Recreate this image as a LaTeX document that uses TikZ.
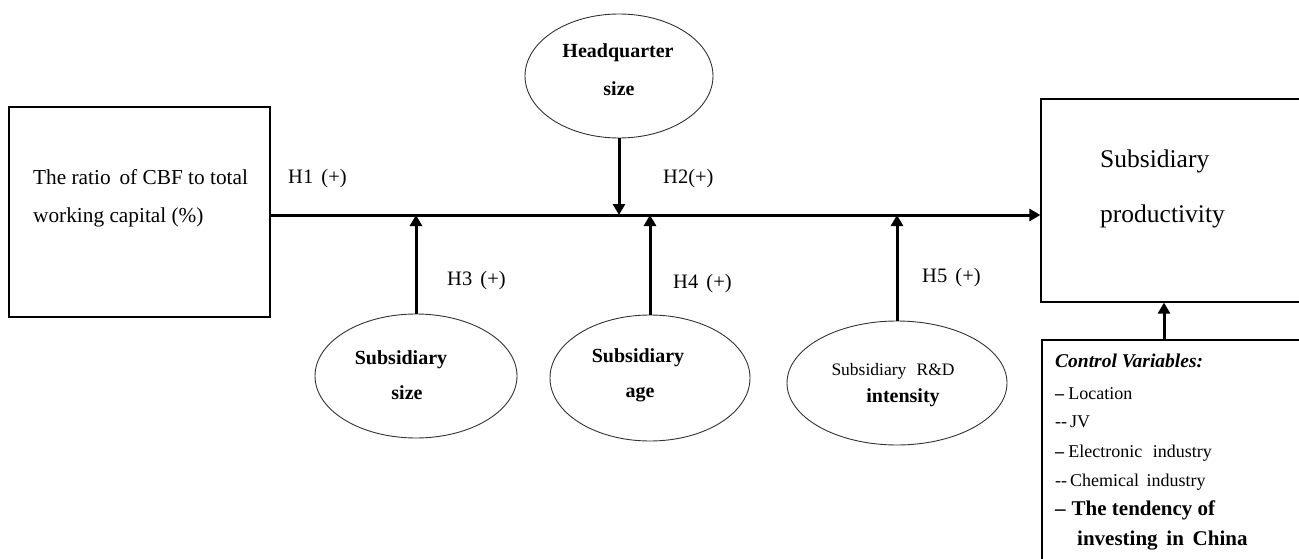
\documentclass[tikz,border=0pt]{standalone}
\usepackage{fontspec}
\setmainfont{Liberation Serif}
\usetikzlibrary{shapes.geometric,arrows.meta}
\begin{document}
\begin{tikzpicture}[x=1pt,y=-1pt,
  box/.style={draw, line width=1.2pt, rectangle, inner sep=0pt},
  oval/.style={draw=black!80, line width=0.9pt, ellipse, inner sep=0pt},
  arr/.style={line width=3pt, -{Triangle[length=11pt,width=12pt]}},
  lbl/.style={inner sep=0pt, text height=0.7em, text depth=0.2em},
  fmain/.style={font=\fontsize{21.3}{25}\selectfont},
  fprod/.style={font=\fontsize{25.5}{30}\selectfont},
  fh/.style={font=\fontsize{20.5}{24}\selectfont},
  fov/.style={font=\fontsize{20}{24}\selectfont\bfseries},
  frd/.style={font=\fontsize{17.5}{21}\selectfont},
  fcv/.style={font=\fontsize{19.5}{23}\selectfont\bfseries\itshape},
  fct/.style={font=\fontsize{18}{22}\selectfont},
  fcb/.style={font=\fontsize{21}{25}\selectfont\bfseries}
]
\clip (0,0) rectangle (1299,559);
\coordinate (mainy) at (0,215);
\coordinate (ctlx) at (1164,0);

% boxes
\node[box, minimum width=261pt, minimum height=210pt] (lbox) at (139.5,212) {};
\node[box, minimum width=280pt, minimum height=203pt] (pbox) at (1181,200.5) {};
\node[box, minimum width=280pt, minimum height=260pt] (cbox) at (1182,470) {};

% ellipses
\node[oval, minimum width=188pt, minimum height=124pt] (hq) at (619,76) {};
\node[oval, minimum width=202pt, minimum height=124pt] (e1) at (416,376) {};
\node[oval, minimum width=200pt, minimum height=126pt] (e2) at (650,378) {};
\node[oval, minimum width=220pt, minimum height=124pt] (e3) at (897,383) {};

% connectors
\draw[arr] (lbox.east |- mainy) -- (pbox.west |- mainy);
\draw[arr] (hq.south) -- (hq.south |- mainy);
\draw[arr] (e1.north) -- (e1.north |- mainy);
\draw[arr] (e2.north) -- (e2.north |- mainy);
\draw[arr] (e3.north) -- (e3.north |- mainy);
\draw[arr] (cbox.north -| ctlx) -- (pbox.south -| ctlx);

% left box text
\node[lbl, fmain, anchor=west] (r1) at (33,182) {The ratio\, of CBF to total};
\node[lbl, fmain, anchor=west] (r2) at (33,220) {working capital (\%)};

% productivity text
\node[lbl, fprod, anchor=west] (p1) at (1100,165) {Subsidiary};
\node[lbl, fprod, anchor=west] (p2) at (1100,220) {productivity};

% ellipse texts
\node[lbl, fov] (hq1) at (618,55) {Headquarter};
\node[lbl, fov] (hq2) at (619,93) {size};
\node[lbl, fov] (e1a) at (401,362) {Subsidiary};
\node[lbl, fov] (e1b) at (407,397) {size};
\node[lbl, fov] (e2a) at (638,360) {Subsidiary};
\node[lbl, fov] (e2b) at (640,395) {age};
\node[lbl, frd] (e3a) at (893,373) {Subsidiary\,\, R\&D};
\node[lbl, fov] (e3b) at (903,400) {intensity};

% hypothesis labels
\node[lbl, fh, anchor=west] (h1) at (288,181) {H1\hspace{0.4em}(+)};
\node[lbl, fh, anchor=west] (h2) at (663,181) {H2(+)};
\node[lbl, fh, anchor=west] (h3) at (447,283) {H3\hspace{0.4em}(+)};
\node[lbl, fh, anchor=west] (h4) at (673,286) {H4\hspace{0.4em}(+)};
\node[lbl, fh, anchor=west] (h5) at (922,280) {H5\hspace{0.4em}(+)};

% control variables
\node[lbl, fcv, anchor=west] (c0) at (1055,365) {Control Variables:};
\node[lbl, fct, anchor=west] (c1) at (1055,397) {\textbf{--}\hspace{4pt}Location};
\node[lbl, fct, anchor=west] (c2) at (1055,425) {-{}-\hspace{3pt}JV};
\node[lbl, fct, anchor=west] (c3) at (1055,455) {\textbf{--}\hspace{4pt}Electronic\,\, industry};
\node[lbl, fct, anchor=west] (c4) at (1055,484) {-{}-\hspace{3pt}Chemical\, industry};
\node[lbl, fcb, anchor=west] (c5) at (1055,513) {--\hspace{6pt}The tendency of};
\node[lbl, fcb, anchor=west] (c6) at (1077,543) {investing\, in\, China};
\end{tikzpicture}
\end{document}
